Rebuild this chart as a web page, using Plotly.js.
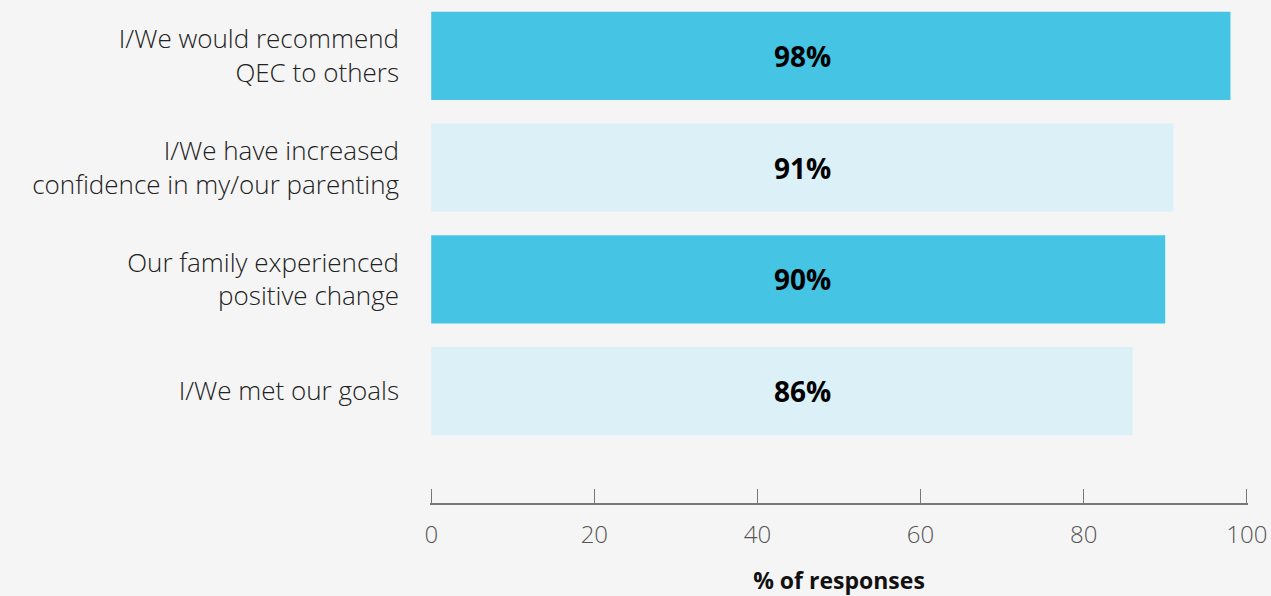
<!DOCTYPE html>
<html><head><meta charset="utf-8">
<script src="https://cdn.plot.ly/plotly-3.0.1.min.js"></script>
<style>html,body{margin:0;padding:0;background:#f5f5f5;}</style>
</head><body><div id="chart" style="width:1271px;height:596px;"></div>
<script>
const categories = ["I/We would recommend<br>QEC to others", "I/We have increased<br>confidence in my/our parenting", "Our family experienced<br>positive change", "I/We met our goals"];
const values = [98, 91, 90, 86];
const barColors = ["#45c4e3", "#dcf0f7", "#45c4e3", "#dcf0f7"];
const labelX = 45.5;
const tickVals = [0, 20, 40, 60, 80, 100];

const trace = {
  type: "bar", orientation: "h",
  x: values, y: categories,
  marker: {color: barColors},
  width: 0.79,
  hoverinfo: "none"
};
const annotations = values.map((v, i) => ({
  x: labelX, y: categories[i], xref: "x", yref: "y",
  text: "<b>" + v + "%</b>", showarrow: false,
  font: {family: "'Open Sans', sans-serif", size: 28, color: "#000"}
}));
const layout = {
  width: 1271, height: 596,
  paper_bgcolor: "#f5f5f5", plot_bgcolor: "#f5f5f5",
  margin: {l: 430, r: 23, t: 0, b: 93},
  showlegend: false,
  font: {family: "'Open Sans', sans-serif", color: "#222"},
  xaxis: {
    range: [-0.15, 100.15], tickvals: tickVals, showgrid: false, zeroline: false,
    showline: true, linecolor: "#777", linewidth: 1.5,
    ticks: "inside", ticklen: 14, tickcolor: "#777", tickwidth: 1,
    ticklabelstandoff: 10,
    tickfont: {size: 24, color: "#555", weight: 300},
    title: {text: "<b>% of responses</b>", font: {family: "'Open Sans', sans-serif", size: 23, color: "#111"}, standoff: 23}
  },
  yaxis: {
    type: "category", categoryorder: "array", categoryarray: categories,
    range: [4, -0.5], showgrid: false, zeroline: false, showline: false, ticks: "",
    ticklabelstandoff: 30,
    tickfont: {size: 26, color: "#222", weight: 300}
  },
  annotations: annotations
};
Plotly.newPlot("chart", [trace], layout, {displayModeBar: false, staticPlot: true});
</script></body></html>
